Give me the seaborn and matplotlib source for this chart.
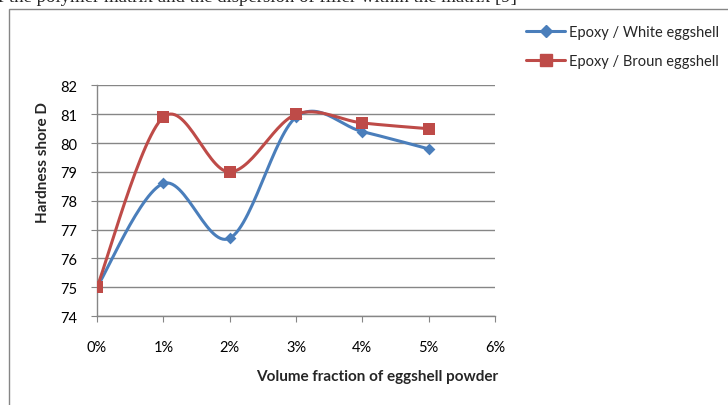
import numpy as np
import pandas as pd
import matplotlib.pyplot as plt
import seaborn as sns
from matplotlib.patches import Rectangle

# data
fractions = [0, 1, 2, 3, 4, 5]  # volume fraction, %
white = [75.0, 78.6, 76.7, 80.9, 80.4, 79.8]
brown = [75.0, 80.9, 79.0, 81.0, 80.7, 80.5]
series_names = ["Epoxy / White eggshell", "Epoxy / Broun eggshell"]
x_ticks = [0, 1, 2, 3, 4, 5, 6]
y_ticks = [74, 75, 76, 77, 78, 79, 80, 81, 82]

df = pd.DataFrame({"fraction": fractions * 2,
                   "hardness": white + brown,
                   "series": [series_names[0]] * 6 + [series_names[1]] * 6})


def smooth(x, y, n=30):
    # Excel-style smoothed line: cubic Bezier with Catmull-Rom control points
    x = np.asarray(x, float)
    y = np.asarray(y, float)
    px = np.concatenate([[x[0]], x, [x[-1]]])
    py = np.concatenate([[y[0]], y, [y[-1]]])
    t = np.linspace(0, 1, n)
    xs, ys = [], []
    for i in range(1, len(px) - 2):
        p0 = np.array([px[i], py[i]])
        p3 = np.array([px[i + 1], py[i + 1]])
        c1 = p0 + (p3 - np.array([px[i - 1], py[i - 1]])) / 6
        c2 = p3 - (np.array([px[i + 2], py[i + 2]]) - p0) / 6
        pts = ((1 - t) ** 3)[:, None] * p0 + (3 * (1 - t) ** 2 * t)[:, None] * c1 \
            + (3 * (1 - t) * t ** 2)[:, None] * c2 + (t ** 3)[:, None] * p3
        xs.extend(pts[:, 0])
        ys.extend(pts[:, 1])
    return np.array(xs), np.array(ys)


sns.set_style("white")
plt.rcParams["font.family"] = ["Lato", "DejaVu Sans"]

fig = plt.figure(figsize=(7.28, 4.06), dpi=100)
ax = fig.add_axes([0.1332, 0.219, 0.5468, 0.568])

colors = {series_names[0]: "#4A7EBB", series_names[1]: "#BE4B48"}
markers = {series_names[0]: "D", series_names[1]: "s"}
msizes = {series_names[0]: 6, series_names[1]: 8.5}

for name in series_names:
    sub = df[df["series"] == name]
    sx, sy = smooth(sub["fraction"], sub["hardness"])
    sns.lineplot(x=sx, y=sy, ax=ax, color=colors[name], linewidth=2.2,
                 sort=False, estimator=None, zorder=3)
    sns.scatterplot(x=sub["fraction"], y=sub["hardness"], ax=ax,
                    color=colors[name], marker=markers[name], s=msizes[name] ** 2,
                    edgecolor=colors[name], linewidth=0, zorder=4)

ax.set_xlim(0, 6)
ax.set_ylim(74, 82)
ax.set_xticks(x_ticks)
ax.set_xticklabels([f"{v}%" for v in x_ticks])
ax.set_yticks(y_ticks)
ax.grid(axis="y", color="#868686", linewidth=1)
ax.grid(axis="x", visible=False)
for s in ["top", "right"]:
    ax.spines[s].set_visible(False)
for s in ["left", "bottom"]:
    ax.spines[s].set_color("#868686")
    ax.spines[s].set_linewidth(1)
ax.tick_params(axis="both", length=4, color="#868686", direction="out",
               labelsize=10.5, labelcolor="black")
ax.tick_params(axis="x", pad=13)
ax.tick_params(axis="y", pad=10)
ax.tick_params(bottom=True, left=True)
ax.set_xlabel("")
ax.set_ylabel("")

fig.text(377 / 728, 1 - 377 / 406, "Volume fraction of eggshell powder",
         ha="center", va="center", fontsize=11, fontweight="bold")
fig.text(43 / 728, 1 - 163 / 406, "Hardness shore D", rotation=90,
         ha="center", va="center", fontsize=11, fontweight="bold")

# legend
handles = [plt.Line2D([], [], color=colors[n], marker=markers[n],
                      markersize=msizes[n], linewidth=2.2) for n in series_names]
fig.legend(handles, series_names, loc="upper left",
           bbox_to_anchor=(520 / 728, 1 - 20 / 406), frameon=False,
           fontsize=10.5, handlelength=2.7, labelspacing=1.05, handletextpad=0.25,
           borderaxespad=0)

# chart frame and cut-off text line above it
fig.patches.append(Rectangle((9 / 728, -0.05), 1.1, 1 - 10 / 406 + 0.05,
                             transform=fig.transFigure, fill=False,
                             edgecolor="#868686", linewidth=1))
fig.text(-2 / 728, 1 + 3 / 406, "f the polymer matrix and the dispersion of filler within the matrix [9]",
         ha="left", va="center", fontsize=13.5, family="Liberation Serif")

fig.savefig("out.png", dpi=100)
